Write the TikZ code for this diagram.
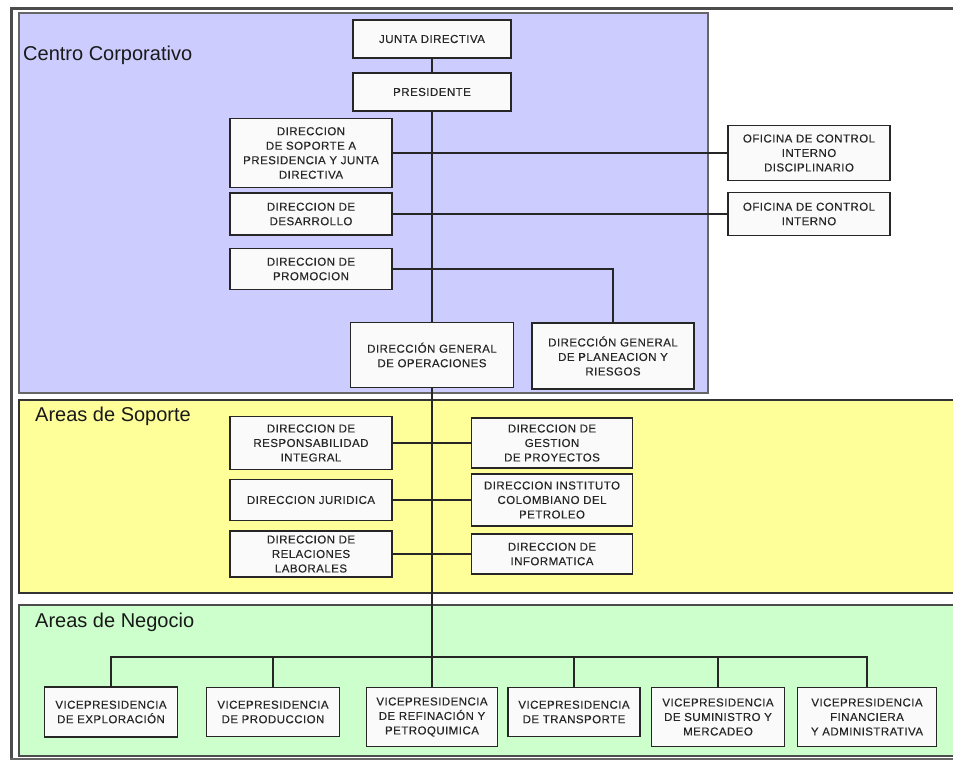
\documentclass[tikz,border=0pt]{standalone}
\usepackage{fontspec}
\setmainfont{Liberation Sans}
\newfontfamily\cajafont[LetterSpace=4,FakeBold=0.3]{Liberation Sans}
\definecolor{azul}{HTML}{CCCCFF}
\definecolor{amarillo}{HTML}{FFFF99}
\definecolor{verde}{HTML}{CCFFCC}
\begin{document}
\begin{tikzpicture}[x=1pt,y=-1pt,
    caja/.style={draw=black!85,line width=1.2pt,fill=gray!4,text=black!85,align=center,
      inner sep=1pt,font=\cajafont\fontsize{11.5}{14.5}\selectfont,minimum width=162pt},
    vp/.style={caja,minimum width=133pt},
    titulo/.style={font=\fontsize{20}{24}\selectfont,text=black!90,anchor=west,inner sep=0pt},
    conector/.style={draw=black!85,line width=1.3pt}]
      \useasboundingbox (0,0) rectangle (953,760);
      % marco y franjas
      \fill[white] (0,0) rectangle (953,760);
      \draw[line width=3pt,black!70] (11.5,762) -- (11.5,9) -- (953,9);
      \draw[line width=2pt,black!60] (10,758.5) -- (953,758.5);
      \draw[fill=azul,draw=black!60,line width=1.5pt] (19,13) rectangle (708,393);
      \draw[fill=amarillo,draw=black!80,line width=1.2pt] (19,400) rectangle (958,593);
      \draw[fill=verde,draw=black!70,line width=1.5pt] (19,605) rectangle (958,756);
      \draw
        (23, 55) node[titulo] (tcc){Centro Corporativo}
        (35, 416) node[titulo] (tas){Areas de Soporte}
        (35, 622) node[titulo] (tan){Areas de Negocio};
      % centro corporativo
      \draw
        (432, 39) node[caja,minimum width=158pt,minimum height=38pt] (jd){JUNTA DIRECTIVA}
        (432, 92) node[caja,minimum width=158pt,minimum height=38pt] (pres){PRESIDENTE}
        (311, 153) node[caja,minimum height=69pt] (soporte){DIRECCION\\DE SOPORTE A\\PRESIDENCIA Y JUNTA\\DIRECTIVA}
        (311, 214) node[caja,minimum height=42pt] (desarrollo){DIRECCION DE\\DESARROLLO}
        (311, 269) node[caja,minimum height=41pt] (promocion){DIRECCION DE\\PROMOCION}
        (809, 153) node[caja,minimum height=55pt] (ocid){OFICINA DE CONTROL\\INTERNO\\DISCIPLINARIO}
        (809, 214) node[caja,minimum height=43pt] (oci){OFICINA DE CONTROL\\INTERNO}
        (432, 355) node[caja,minimum width=163pt,minimum height=65pt] (dgo){DIRECCIÓN GENERAL\\DE OPERACIONES}
        (613, 356) node[caja,minimum height=66pt] (dgp){DIRECCIÓN GENERAL\\DE PLANEACION Y\\RIESGOS};
      % areas de soporte
      \draw
        (311, 443) node[caja,minimum height=53pt] (resp){DIRECCION DE\\RESPONSABILIDAD\\INTEGRAL}
        (311, 500) node[caja,minimum height=41pt] (jur){DIRECCION JURIDICA}
        (311, 554) node[caja,minimum height=46pt] (rel){DIRECCION DE\\RELACIONES\\LABORALES}
        (552, 443) node[caja,minimum width=161pt,minimum height=50pt] (gest){DIRECCION DE\\GESTION\\DE PROYECTOS}
        (552, 500) node[caja,minimum width=161pt,minimum height=52pt] (icp){DIRECCION INSTITUTO\\COLOMBIANO DEL\\PETROLEO}
        (552, 554) node[caja,minimum width=161pt,minimum height=40pt] (inf){DIRECCION DE\\INFORMATICA};
      % areas de negocio
      \draw
        (111, 712) node[vp,minimum height=50pt] (vp1){VICEPRESIDENCIA\\DE EXPLORACIÓN}
        (273, 712) node[vp,minimum height=49pt] (vp2){VICEPRESIDENCIA\\DE PRODUCCION}
        (432, 717) node[vp,minimum width=131pt,minimum height=59pt] (vp3){VICEPRESIDENCIA\\DE REFINACIÓN Y\\PETROQUIMICA}
        (574, 712) node[vp,minimum width=132pt,minimum height=49pt] (vp4){VICEPRESIDENCIA\\DE TRANSPORTE}
        (718, 717) node[vp,minimum height=59pt] (vp5){VICEPRESIDENCIA\\DE SUMINISTRO Y\\MERCADEO}
        (867, 717) node[vp,minimum width=139pt,minimum height=59pt] (vp6){VICEPRESIDENCIA\\FINANCIERA\\Y ADMINISTRATIVA};
      \coordinate (bus) at (432, 657);
      \begin{scope}[conector]
        \draw (jd) -- (pres);
        \draw (pres) -- (dgo);
        \draw (dgo) -- (vp3);
        \draw (soporte.east) -- (ocid.west);
        \draw (desarrollo.east) -- (oci.west);
        \draw (promocion.east) -| (dgp.north);
        \draw (resp.east) -- (gest.west);
        \draw (jur.east) -- (icp.west);
        \draw (rel.east) -- (inf.west);
        \foreach \v in {vp1,vp2,vp4,vp5,vp6}
          \draw (\v.north) |- (bus);
      \end{scope}
    \end{tikzpicture}
\end{document}
